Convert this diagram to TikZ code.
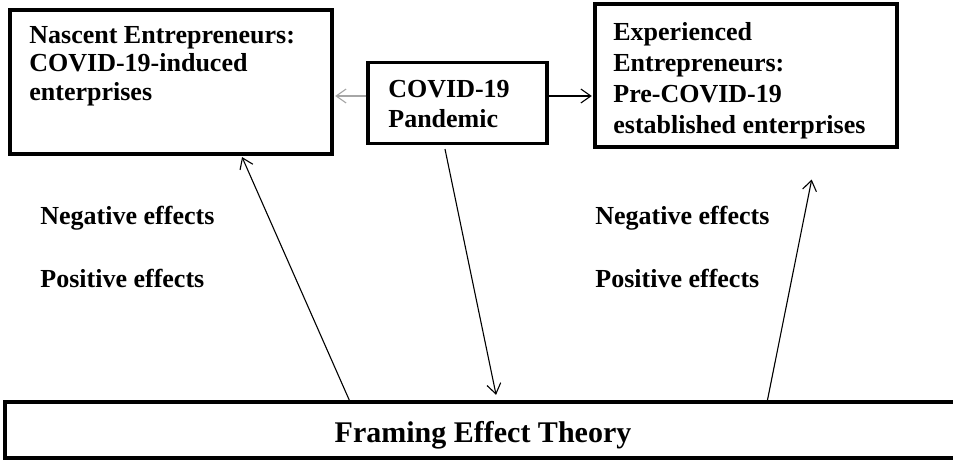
\documentclass[tikz,border=0pt]{standalone}
\usepackage{fontspec}
\setmainfont{Liberation Serif}
\usetikzlibrary{arrows.meta}

\begin{document}
\begin{tikzpicture}[x=0.5pt,y=-0.5pt,>={Straight Barb[length=5pt,width=7pt]},
	box/.style={rectangle,draw,line width=1.6pt,inner sep=0pt},
	box text/.style={inner sep=0pt,anchor=north west,align=left,font=\fontsize{13}{14.25}\selectfont\bfseries},
	effect text/.style={inner sep=0pt,anchor=base west,font=\fontsize{13}{15}\selectfont\bfseries},
	flow/.style={->,line width=0.55pt,shorten >=0.8pt}]

	\useasboundingbox (0,0) rectangle (953,460);
	\clip (0,0) rectangle (953,460);

	% boxes
	\node[box,minimum width=161pt,minimum height=72pt] (nascent) at (171,82) {};
	\node[box,minimum width=89.5pt,minimum height=40.5pt] (covid) at (457.5,103) {};
	\node[box,minimum width=151pt,minimum height=71.5pt] (experienced) at (746,75.5) {};
	\node[box,minimum width=480pt,minimum height=28pt] (theory) at (485,430) {};

	% box texts
	\node[box text] (nascent text) at (29,25.8) {Nascent Entrepreneurs:\\COVID-19-induced\\enterprises};
	\node[box text,font=\fontsize{13}{15}\selectfont\bfseries] (covid text) at (388,79.4) {COVID-19\\Pandemic};
	\node[box text,font=\fontsize{13}{15.5}\selectfont\bfseries] (experienced text) at (613,22.4) {Experienced\\Entrepreneurs:\\Pre-COVID-19\\established enterprises};
	\node[font=\fontsize{15}{18}\selectfont\bfseries,inner sep=0pt,anchor=base] (theory text) at (483,442) {Framing Effect Theory};

	% effects
	\node[effect text] (neg left) at (40,224) {Negative effects};
	\node[effect text] (pos left) at (40,287) {Positive effects};
	\node[effect text] (neg right) at (595,224) {Negative effects};
	\node[effect text] (pos right) at (595,287) {Positive effects};

	% arrow ends
	\coordinate (side level) at ([yshift=3.5pt]covid.west);
	\coordinate (side level r) at ([yshift=3.5pt]covid.east);
	\coordinate (left foot) at ([xshift=173pt]theory.north west);
	\coordinate (left tip) at ([xshift=116.5pt]nascent.south west);
	\coordinate (mid start) at ([xshift=-6.25pt,yshift=-2pt]covid.south);
	\coordinate (mid tip) at ([xshift=246.5pt,yshift=2pt]theory.north west);
	\coordinate (right foot) at ([xshift=382pt]theory.north west);
	\coordinate (right tip) at (812,178);

	\path[flow]
	(side level) edge[gray!70] (side level -| nascent.east)
	(side level r) edge (side level r -| experienced.west)
	(left foot) edge (left tip)
	(mid start) edge (mid tip)
	(right foot) edge (right tip);
\end{tikzpicture}
\end{document}
